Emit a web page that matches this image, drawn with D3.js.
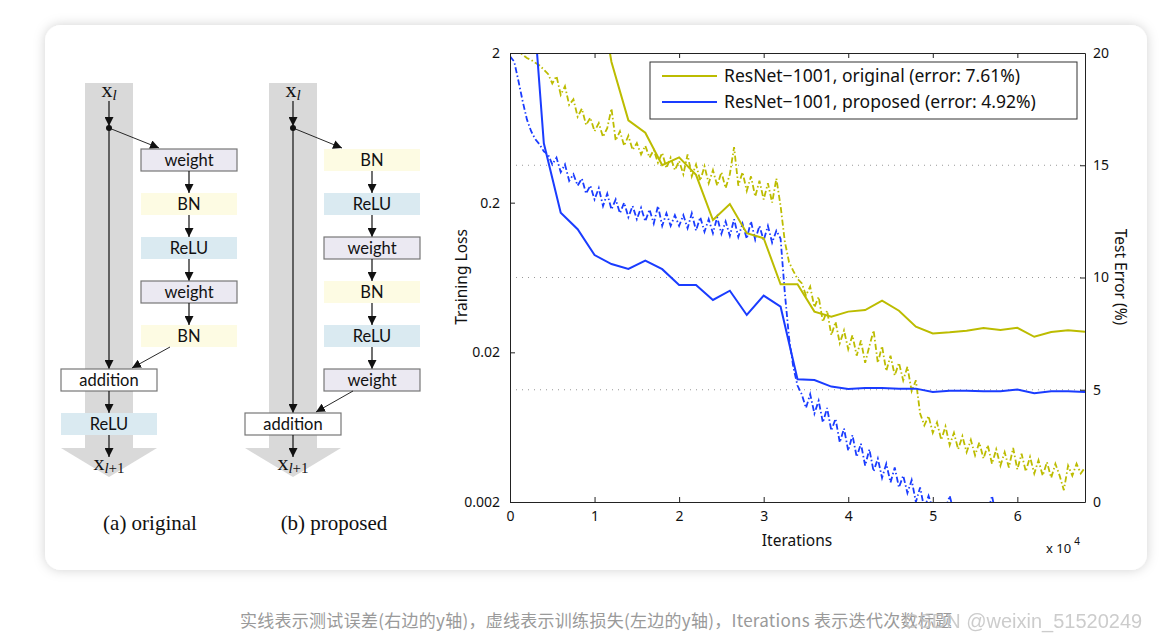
<!DOCTYPE html>
<html>
<head>
<meta charset="utf-8">
<script src="https://cdn.jsdelivr.net/npm/d3@7"></script>
<style>
  body { margin: 0; background: #fff; }
  svg { display: block; }
</style>
</head>
<body>
<div id="viz"></div>
<script>
// residual unit blocks (left diagram)
var unitA = ["weight", "BN", "ReLU", "weight", "BN"]
var unitB = ["BN", "ReLU", "weight", "BN", "ReLU", "weight"]
var boxFill = {weight: "#ebe9f2", BN: "#fdfbe3", ReLU: "#daeaf1"}

// test error (%), right axis, one point every 2000 iterations
var errIter = [0.2,0.4,0.6,0.8,1.0,1.2,1.4,1.6,1.8,2.0,2.2,2.4,2.6,2.8,3.0,3.2,3.4,3.6,3.8,4.0,
               4.2,4.4,4.6,4.8,5.0,5.2,5.4,5.6,5.8,6.0,6.2,6.4,6.6,6.8]
var errOriginal = [60,48,38,30,24,19.6,17.0,16.45,15.0,15.35,
                   14.57,12.56,13.27,11.97,11.75,9.7,9.7,8.48,8.25,8.48,
                   8.55,8.97,8.52,7.81,7.51,7.56,7.63,7.75,7.66,7.76,
                   7.36,7.57,7.65,7.58]
var errProposed = [26,15.98,12.89,12.15,11.0,10.6,10.38,10.75,10.37,9.67,
                   9.67,9.0,9.41,8.33,9.19,8.7,5.47,5.43,5.14,5.03,
                   5.08,5.08,5.05,5.05,4.9,4.96,4.96,4.93,4.93,5.01,
                   4.84,4.93,4.93,4.9]

// training loss, left log axis, one point every 500 iterations (0 .. 6.8 x 10^4)
var lossOriginal = [
  2.6,2.3,2.05,1.95,1.85,1.8,1.72,1.65,1.55,1.45,
  1.25,1.4,1.05,1.2,0.9,0.98,0.75,0.85,0.66,0.74,
  0.6,0.68,0.55,0.63,0.85,0.52,0.6,0.48,0.56,0.45,
  0.5,0.42,0.48,0.4,0.45,0.37,0.43,0.34,0.4,0.33,
  0.38,0.31,0.42,0.3,0.36,0.28,0.35,0.27,0.33,0.26,
  0.32,0.25,0.31,0.47,0.26,0.32,0.24,0.3,0.22,0.28,
  0.21,0.27,0.2,0.29,0.19,0.11,0.08,0.07,0.062,0.058,
  0.048,0.055,0.04,0.047,0.032,0.038,0.026,0.032,0.023,0.028,
  0.021,0.026,0.019,0.024,0.017,0.022,0.028,0.017,0.022,0.015,
  0.019,0.014,0.017,0.013,0.016,0.011,0.013,0.0078,0.0065,0.0075,
  0.0058,0.0068,0.0052,0.0064,0.0048,0.0058,0.0045,0.0055,0.0043,0.0052,
  0.0041,0.005,0.0039,0.0048,0.0036,0.0045,0.0035,0.0043,0.0034,0.0046,
  0.0033,0.0042,0.0032,0.004,0.0031,0.0038,0.003,0.0037,0.0029,0.0036,
  0.003,0.0024,0.0035,0.003,0.0036,0.0031,0.0034]
var lossProposed = [
  1.9,1.75,1.3,0.95,0.72,0.6,0.53,0.49,0.44,0.42,
  0.36,0.40,0.32,0.36,0.28,0.31,0.26,0.29,0.23,0.26,
  0.21,0.25,0.19,0.23,0.18,0.21,0.17,0.2,0.16,0.19,
  0.155,0.185,0.15,0.18,0.145,0.19,0.14,0.17,0.14,0.165,
  0.14,0.165,0.135,0.17,0.13,0.16,0.128,0.155,0.125,0.16,
  0.124,0.15,0.12,0.155,0.118,0.145,0.115,0.15,0.113,0.14,
  0.112,0.14,0.108,0.13,0.115,0.05,0.025,0.016,0.012,0.0105,
  0.0085,0.0105,0.0078,0.0095,0.0068,0.0085,0.006,0.0072,0.005,0.0062,
  0.0044,0.0056,0.004,0.0049,0.0035,0.0045,0.0032,0.0039,0.0029,0.0036,
  0.0027,0.0034,0.0025,0.003,0.0023,0.0028,0.0020,0.0025,0.0018,0.0022,
  0.0018,0.0019,0.0017,0.0018,0.0022,0.0017,0.0016,0.0017,0.0016,0.0018,
  0.0016,0.0017,0.0016,0.0017,0.0022,0.0016,0.0015,0.0016,0.0015,0.0016,
  0.0019,0.0015,0.0014,0.0015,0.0014,0.0015,0.0014,0.0015,0.0014,0.0015,
  0.0014,0.0015,0.0014,0.0015,0.0014,0.0015,0.0014]
var lossIter = d3.range(lossOriginal.length).map(function(i) { return i * 0.05 })

var legendLabels = ["ResNet\u22121001, original (error: 7.61%)", "ResNet\u22121001, proposed (error: 4.92%)"]
var colors = ["#bcbc00", "#1a3cff"]
var caption = "实线表示测试误差(右边的y轴)，虚线表示训练损失(左边的y轴)，Iterations 表示迭代次数标题"

var W = 1174, H = 643

var svg = d3.select("#viz").append("svg")
  .attr("width", W).attr("height", H)

var defs = svg.append("defs")
var f = defs.append("filter").attr("id", "shadow").attr("x", "-5%").attr("y", "-5%").attr("width", "110%").attr("height", "110%")
f.append("feDropShadow").attr("dx", 0).attr("dy", 0).attr("stdDeviation", 6).attr("flood-color", "#000").attr("flood-opacity", 0.18)

defs.append("marker").attr("id", "arr")
  .attr("viewBox", "0 0 10 10").attr("refX", 10).attr("refY", 5)
  .attr("markerWidth", 9).attr("markerHeight", 9).attr("markerUnits", "userSpaceOnUse")
  .attr("orient", "auto")
  .append("path").attr("d", "M0,0 L10,5 L0,10 Z").attr("fill", "#111")

// card
svg.append("rect").attr("x", 45).attr("y", 25).attr("width", 1102).attr("height", 545)
  .attr("rx", 16).attr("fill", "#fff").attr("filter", "url(#shadow)")

// ---------- residual unit diagrams ----------
function arrow(g, x1, y1, x2, y2, w) {
  g.append("line").attr("x1", x1).attr("y1", y1).attr("x2", x2).attr("y2", y2)
    .attr("stroke", "#111").attr("stroke-width", w || 1.2).attr("marker-end", "url(#arr)")
}

function xLabel(g, cx, y, sub) {
  var t = g.append("text").attr("x", cx).attr("y", y).attr("text-anchor", "middle")
    .style("font-family", "Liberation Serif, serif").style("font-size", "22px").attr("fill", "#111")
  t.append("tspan").text("x")
  t.append("tspan").attr("dy", 3).style("font-size", "15px").style("font-style", "italic").text(sub[0])
  if (sub.length > 1) t.append("tspan").style("font-size", "15px").text(sub.slice(1))
}

function box(g, x, y, w, h, label, fill, stroke) {
  g.append("rect").attr("x", x).attr("y", y).attr("width", w).attr("height", h)
    .attr("fill", fill).attr("stroke", stroke ? "#777" : "none").attr("stroke-width", 1.2)
  g.append("text").attr("x", x + w / 2).attr("y", y + h / 2 + 5.5).attr("text-anchor", "middle")
    .style("font-family", "Lato, sans-serif").style("font-size", "16.5px").attr("fill", "#111").text(label)
}

function unit(cx, blocks, bx, addY, reluAfter, capText) {
  var g = svg.append("g")
  var step = 44, top = 149, bh = 22, bw = 96
  // big gray arrow
  g.append("rect").attr("x", cx - 24).attr("y", 83).attr("width", 48).attr("height", 365).attr("fill", "#d9d9d9")
  g.append("path").attr("d", "M" + (cx - 48) + ",448 L" + (cx + 48) + ",448 L" + cx + ",477 Z").attr("fill", "#d9d9d9")
  xLabel(g, cx, 97, "l")
  arrow(g, cx, 101, cx, 126)
  g.append("circle").attr("cx", cx).attr("cy", 128).attr("r", 3).attr("fill", "#111")
  // shortcut
  arrow(g, cx, 128, cx, addY)
  // into first block
  arrow(g, cx, 128, bx + 18, top - 1, 0.9)
  blocks.forEach(function(b, i) {
    var y = top + i * step
    box(g, bx, y, bw, bh, b, boxFill[b], b == "weight")
    if (i < blocks.length - 1) arrow(g, bx + bw / 2, y + bh, bx + bw / 2, y + step)
  })
  var lastY = top + (blocks.length - 1) * step + bh
  arrow(g, bx + 29, lastY, cx + 23, addY - 1, 0.9)
  box(g, cx - 48, addY, 96, 22, "addition", "#fff", true)
  var y = addY + 22
  if (reluAfter) {
    arrow(g, cx, y, cx, y + 22)
    box(g, cx - 48, y + 22, 96, 22, "ReLU", boxFill.ReLU, false)
    y = y + 44
  }
  arrow(g, cx, y, cx, 457)
  xLabel(g, cx, 470, "l+1")
  g.append("text").attr("x", cx + 41).attr("y", 530).attr("text-anchor", "middle")
    .style("font-family", "Liberation Serif, serif").style("font-size", "21px").attr("fill", "#111").text(capText)
}

unit(109, unitA, 141, 369, true, "(a) original")
unit(293, unitB, 324, 413, false, "(b) proposed")

// ---------- training curves ----------
var x = d3.scaleLinear().domain([0, 6.8]).range([510, 1085])
var yL = d3.scaleLog().domain([0.002, 2]).range([502, 53])
var yR = d3.scaleLinear().domain([0, 20]).range([502, 53])

var font = "Noto Sans, Open Sans, sans-serif"

defs.append("clipPath").attr("id", "plotclip").append("rect")
  .attr("x", 510).attr("y", 53).attr("width", 575).attr("height", 449)

// dotted grid lines of the right axis
svg.append("g").selectAll("line").data([5, 10, 15]).enter().append("line")
  .attr("x1", x(0)).attr("x2", x(6.8)).attr("y1", function(d) { return yR(d) }).attr("y2", function(d) { return yR(d) })
  .attr("stroke", "#999").attr("stroke-width", 1).attr("stroke-dasharray", "1,5")

var plot = svg.append("g").attr("clip-path", "url(#plotclip)")

var lossLine = d3.line().x(function(d) { return x(d[0]) }).y(function(d) { return yL(d[1]) })
var errLine = d3.line().x(function(d) { return x(d[0]) }).y(function(d) { return yR(d[1]) })

;[lossOriginal, lossProposed].forEach(function(s, k) {
  plot.append("path").datum(lossIter.map(function(t, i) { return [t, s[i]] }))
    .attr("d", lossLine).attr("fill", "none").attr("stroke", colors[k])
    .attr("stroke-width", 1.8).attr("stroke-dasharray", "6,2.5,1.5,2.5")
})
;[errOriginal, errProposed].forEach(function(s, k) {
  plot.append("path").datum(errIter.map(function(t, i) { return [t, s[i]] }))
    .attr("d", errLine).attr("fill", "none").attr("stroke", colors[k])
    .attr("stroke-width", 2)
})

// axes
function styleAxis(g) {
  g.select(".domain").attr("stroke", "#222")
  g.selectAll(".tick line").attr("stroke", "#222")
  g.selectAll(".tick text").style("font-family", font).style("font-size", "14px").attr("fill", "#111")
}
svg.append("g").attr("transform", "translate(0,502)")
  .call(d3.axisBottom(x).tickValues([0, 1, 2, 3, 4, 5, 6]).tickSizeInner(-5).tickSizeOuter(0).tickPadding(9).tickFormat(d3.format("d")))
  .call(styleAxis)
svg.append("g").attr("transform", "translate(0,53)")
  .call(d3.axisTop(x).tickValues([1, 2, 3, 4, 5, 6]).tickSizeInner(-5).tickSizeOuter(0).tickFormat(""))
  .call(styleAxis)
svg.append("g").attr("transform", "translate(510,0)")
  .call(d3.axisLeft(yL).tickValues([0.002, 0.02, 0.2, 2]).tickSizeInner(-5).tickSizeOuter(0).tickPadding(10)
    .tickFormat(function(d) { return String(d) }))
  .call(styleAxis)
svg.append("g").attr("transform", "translate(1085,0)")
  .call(d3.axisRight(yR).tickValues([0, 5, 10, 15, 20]).tickSizeInner(-5).tickSizeOuter(0).tickPadding(8))
  .call(styleAxis)

// axis titles
svg.append("text").attr("x", 797).attr("y", 546).attr("text-anchor", "middle")
  .style("font-family", font).style("font-size", "15.5px").attr("fill", "#111").text("Iterations")
var xe = svg.append("text").attr("x", 1046).attr("y", 553)
  .style("font-family", font).style("font-size", "13px").attr("fill", "#111")
xe.append("tspan").text("x 10")
xe.append("tspan").attr("dx", 3).attr("dy", -8).style("font-size", "10px").text("4")
svg.append("text").attr("transform", "translate(467,277) rotate(-90)").attr("text-anchor", "middle")
  .style("font-family", font).style("font-size", "15.5px").attr("fill", "#111").text("Training Loss")
svg.append("text").attr("transform", "translate(1115,277) rotate(90)").attr("text-anchor", "middle")
  .style("font-family", font).style("font-size", "15.5px").attr("fill", "#111").text("Test Error (%)")

// legend
var lg = svg.append("g")
lg.append("rect").attr("x", 650).attr("y", 62).attr("width", 427).attr("height", 57)
  .attr("fill", "#fff").attr("stroke", "#333").attr("stroke-width", 1)
legendLabels.forEach(function(l, i) {
  var ly = 76 + i * 26
  lg.append("line").attr("x1", 662).attr("x2", 717).attr("y1", ly).attr("y2", ly)
    .attr("stroke", colors[i]).attr("stroke-width", 2)
  lg.append("text").attr("x", 724).attr("y", ly + 6)
    .style("font-family", font).style("font-size", "17.5px").attr("fill", "#111").text(l)
})

// caption + watermark (the watermark overlaps the caption end, as in the reference)
svg.append("text").attr("x", 240).attr("y", 627).attr("textLength", 712)
  .style("font-family", "Noto Sans CJK SC, sans-serif").style("font-size", "17px").attr("fill", "#9a9a9a").text(caption)
svg.append("text").attr("x", 904).attr("y", 628)
  .style("font-family", "Liberation Sans, sans-serif").style("font-size", "20px").attr("fill", "#c4c4c4")
  .attr("opacity", 0.85).text("CSDN @weixin_51520249")
</script>
</body>
</html>
